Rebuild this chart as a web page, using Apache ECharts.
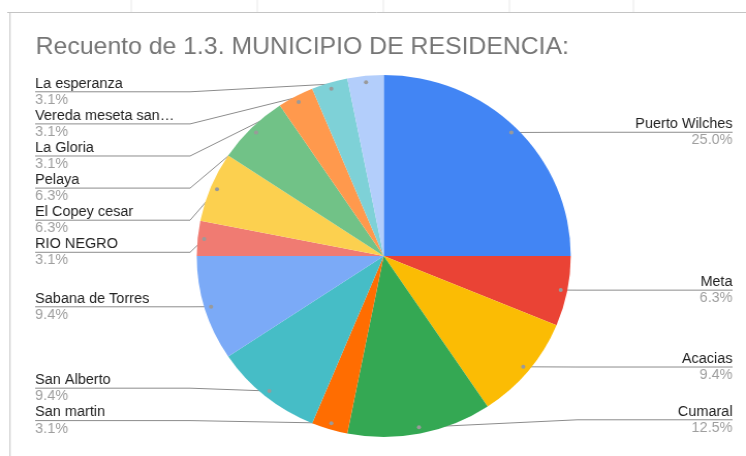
<!DOCTYPE html>
<html>
<head>
<meta charset="utf-8">
<script src="https://cdn.jsdelivr.net/npm/echarts@6/dist/echarts.min.js"></script>
<style>
html,body{margin:0;padding:0;background:#fff;overflow:hidden}
/* the reference is slightly stretched sideways: draw at 722px and widen to 746px */
#main{width:722px;height:456px;transform:scaleX(1.0332);transform-origin:0 0}
</style>
</head>
<body>
<div id="main"></div>
<script>
var municipios = ['Puerto Wilches', 'Meta', 'Acacias', 'Cumaral', 'San martin', 'San Alberto',
    'Sabana de Torres', 'RIO NEGRO', 'El Copey cesar', 'Pelaya', 'La Gloria', 'Vereda meseta san…', 'La esperanza'];
var recuento = [8, 2, 3, 4, 1, 3, 3, 1, 2, 2, 1, 1, 1];
var colores = ['#4285f4', '#ea4335', '#fbbc04', '#34a853', '#ff6d01', '#46bdc6',
    '#7baaf7', '#f07b72', '#fcd04f', '#71c287', '#ff994d', '#7ed1d7', '#b3cefb'];
// largo del primer tramo de cada linea (las que tocan el borde van mas cortas)
var largoLinea = [-6, -6, -6, -14, -9, -10, -6, -6, -6, -6, -6, -16, -16];
var lineasHoja = [127, 249, 371, 493, 613];

var W = 722;
var total = recuento.reduce(function (a, b) { return a + b; }, 0);
var cx = 371.4, cy = 256, r = 181;
var pieLeft = 24, pieTop = 75;

// marco y lineas de la hoja
var graficos = [
    {type: 'line', shape: {x1: 7, y1: 12.5, x2: W, y2: 12.5}, style: {stroke: '#c4c4c4', lineWidth: 1}},
    {type: 'line', shape: {x1: 9.7, y1: 12, x2: 9.7, y2: 456}, style: {stroke: '#c4c4c4', lineWidth: 1}}
];
lineasHoja.forEach(function (x) {
    graficos.push({type: 'line', shape: {x1: x, y1: 0, x2: x, y2: 12}, style: {stroke: '#e8e8e8', lineWidth: 1}});
});

// puntos de inicio de las lineas de etiqueta
var acc = 0;
recuento.forEach(function (v) {
    var mid = (acc + v / 2) / total * 2 * Math.PI;
    acc += v;
    graficos.push({
        type: 'circle', z: 100,
        shape: {cx: cx + Math.sin(mid) * r * 0.965, cy: cy - Math.cos(mid) * r * 0.965, r: 2},
        style: {fill: '#9a9a9a'}
    });
});

var chart = echarts.init(document.getElementById('main'));
chart.setOption({
    animation: false,
    title: {
        text: 'Recuento de 1.3. MUNICIPIO DE RESIDENCIA:',
        left: 34.5, top: 35, padding: 0,
        textStyle: {color: '#757575', fontSize: 24, fontWeight: 'normal', fontFamily: 'Liberation Sans'}
    },
    color: colores,
    graphic: graficos,
    series: [{
        type: 'pie',
        left: pieLeft, right: 3, top: pieTop, bottom: 456 - 437,
        center: [cx - pieLeft, cy - pieTop],
        radius: [0, r],
        startAngle: 90,
        clockwise: true,
        label: {
            alignTo: 'edge',
            edgeDistance: 10,
            fontFamily: 'Liberation Sans',
            formatter: function (p) {
                return '{name|' + p.name + '}\n{pct|' + (p.value / total * 100).toFixed(1) + '%}';
            },
            rich: {
                name: {fontSize: 14, color: '#222222', lineHeight: 16.1, fontFamily: 'Liberation Sans'},
                pct: {fontSize: 14, color: '#9e9e9e', lineHeight: 16.1, fontFamily: 'Liberation Sans'}
            }
        },
        labelLine: {
            length: -6,
            length2: 0,
            lineStyle: {color: '#8c8c8c', width: 1}
        },
        labelLayout: function (p) {
            var pts = p.labelLinePoints;
            if (!pts) return;
            var isLeft = p.labelRect.x < W / 2;
            var y = pts[2][1];
            var ax = cx + (pts[0][0] - cx) * 0.965;
            var ay = cy + (pts[0][1] - cy) * 0.965;
            var ex = isLeft ? p.labelRect.x + 150 : p.labelRect.x + p.labelRect.width - 150;
            var endX = isLeft ? p.labelRect.x : p.labelRect.x + p.labelRect.width;
            return {labelLinePoints: [[ax, ay], [ex, y], [endX, y]]};
        },
        emphasis: {disabled: true},
        data: municipios.map(function (n, i) {
            return {name: n, value: recuento[i], labelLine: {length: largoLinea[i]}};
        })
    }]
});
</script>
</body>
</html>
